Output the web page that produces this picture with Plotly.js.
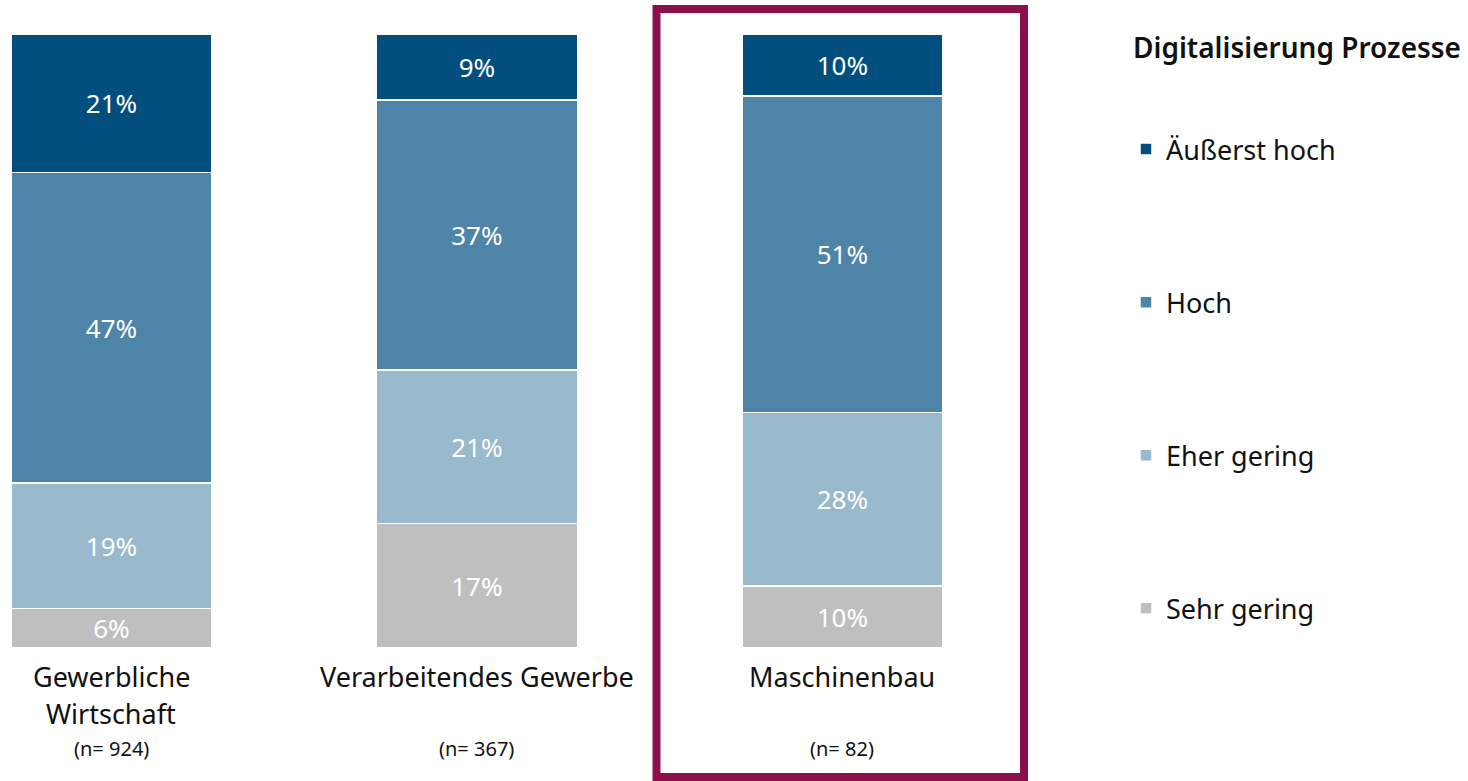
<!DOCTYPE html>
<html><head><meta charset="utf-8">
<script src="https://cdn.plot.ly/plotly-3.0.1.min.js"></script>
<style>html,body{margin:0;padding:0;background:#fff;}#chart{width:1468px;height:781px;}</style>
</head><body><div id="chart"></div>
<script>
const categories = ["Gewerbliche Wirtschaft", "Verarbeitendes Gewerbe", "Maschinenbau"];
const labelLines = [["Gewerbliche", "Wirtschaft"], ["Verarbeitendes Gewerbe"], ["Maschinenbau"]];
const nLabels = ["(n= 924)", "(n= 367)", "(n= 82)"];
const seriesNames = ["Sehr gering", "Eher gering", "Hoch", "Äußerst hoch"];
const sehrGering = [6, 17, 10];
const eherGering = [19, 21, 28];
const hoch = [47, 37, 51];
const aeusserstHoch = [21, 9, 10];
const legendTitle = "Digitalisierung Prozesse";

const colors = ["#bfbfbf", "#99b9cc", "#4e84a8", "#024f7f"];
const seriesValues = [sehrGering, eherGering, hoch, aeusserstHoch];
const FONT = "Noto Sans, Open Sans, sans-serif";

const traces = seriesValues.map((vals, i) => ({
  type: "bar",
  name: seriesNames[i],
  legendgroup: "g" + i,
  legendrank: 100 * (seriesValues.length - i),
  x: [0, 1, 2],
  y: vals,
  text: vals.map(v => v + "%"),
  textposition: "inside",
  insidetextanchor: "middle",
  textangle: 0,
  constraintext: "none",
  textfont: {family: FONT, size: 26, color: "#ffffff"},
  marker: {color: colors[i], line: {color: "#ffffff", width: 1.5}},
  hoverinfo: "skip"
}));

const annotations = [];
labelLines.forEach((lines, c) => {
  lines.forEach((ln, j) => {
    annotations.push({
      xref: "x", yref: "paper", x: c, y: (648 - (676 + j * 37)) / 614,
      text: ln, showarrow: false, xanchor: "center", yanchor: "middle",
      font: {family: FONT, size: 27, color: "#111111"}
    });
  });
  annotations.push({
    xref: "x", yref: "paper", x: c, y: (648 - 748) / 614,
    text: nLabels[c], showarrow: false, xanchor: "center", yanchor: "middle",
    font: {family: FONT, size: 20, color: "#111111"}
  });
});
annotations.push({
  xref: "paper", yref: "paper", x: 1131 / 1100, y: (648 - 47) / 614,
  text: legendTitle, showarrow: false, xanchor: "left", yanchor: "middle",
  font: {family: FONT, size: 28, color: "#111111", weight: 600}
});

const layout = {
  width: 1468, height: 781,
  margin: {l: 0, r: 368, t: 34, b: 133, pad: 0},
  paper_bgcolor: "#ffffff", plot_bgcolor: "#ffffff",
  barmode: "stack", barnorm: "percent", bargap: 0.45,
  xaxis: {range: [-0.305, 2.705], visible: false, fixedrange: true},
  yaxis: {range: [0, 100], visible: false, fixedrange: true},
  showlegend: true,
  legend: {
    x: 1126 / 1100, xanchor: "left", y: (648 - 125) / 614, yanchor: "top",
    traceorder: "grouped", tracegroupgap: 115,
    font: {family: FONT, size: 27, color: "#111111"},
    bgcolor: "rgba(0,0,0,0)", itemclick: false, itemdoubleclick: false
  },
  annotations: annotations,
  shapes: [{
    type: "rect", xref: "paper", yref: "paper",
    x0: 656.5 / 1100, x1: 1024 / 1100,
    y0: (648 - 777) / 614, y1: (648 - 9) / 614,
    line: {color: "#8a0f4a", width: 8}, fillcolor: "rgba(0,0,0,0)", layer: "above"
  }],
  font: {family: FONT}
};

Plotly.newPlot("chart", traces, layout, {displayModeBar: false, staticPlot: true});
</script></body></html>
